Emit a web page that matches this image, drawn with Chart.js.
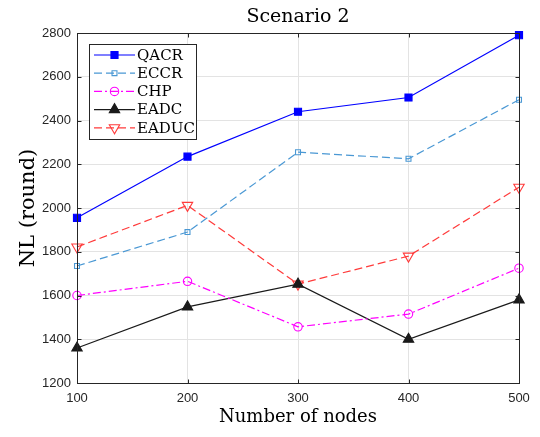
<!DOCTYPE html>
<html>
<head>
<meta charset="utf-8">
<script src="https://cdn.jsdelivr.net/npm/chart.js@4"></script>
<style>
  html, body { margin: 0; padding: 0; background: #fff; }
  #wrap { width: 540px; height: 437px; }
</style>
</head>
<body>
<div id="wrap"><canvas id="c" width="540" height="437"></canvas></div>
<script>
// values
const nodes = [100, 200, 300, 400, 500];
const qacr  = [1955, 2235, 2440, 2505, 2790];
const eccr  = [1735, 1890, 2255, 2225, 2495];
const chp   = [1600, 1665, 1457, 1515, 1725];
const eadc  = [1360, 1548, 1652, 1400, 1580];
const eaduc = [1822, 2012, 1652, 1780, 2095];
const yTicks = [1200, 1400, 1600, 1800, 2000, 2200, 2400, 2600, 2800];

const AXIS = "#262626";
const SERIF = "'DejaVu Serif', serif";
const SANS = "'Liberation Sans', Arial, sans-serif";

function pts(ys) { return nodes.map((x, i) => ({ x, y: ys[i] })); }

function series(label, ys, color, dash, style, radius, filled, rotation) {
  return {
    label,
    data: pts(ys),
    borderColor: color,
    borderWidth: 1.2,
    borderDash: dash,
    pointStyle: style,
    pointRadius: radius,
    pointRotation: rotation || 0,
    pointBorderColor: color,
    pointBorderWidth: 1.1,
    pointBackgroundColor: filled ? color : "rgba(0,0,0,0)",
    backgroundColor: filled ? color : "rgba(0,0,0,0)",
    tension: 0,
    clip: false
  };
}

// MATLAB-like box with inward ticks on all four sides
const boxPlugin = {
  id: "box",
  afterDatasetsDraw(chart) {
    const { ctx, chartArea: a, scales: { x, y } } = chart;
    const L = Math.floor(a.left) + 0.5, T = Math.floor(a.top) + 0.5;
    const R = Math.floor(a.right) + 0.5, B = Math.floor(a.bottom) + 0.5;
    ctx.save();
    ctx.strokeStyle = AXIS;
    ctx.lineWidth = 1;
    ctx.strokeRect(L, T, R - L, B - T);
    ctx.beginPath();
    x.ticks.forEach(t => {
      const px = Math.round(x.getPixelForValue(t.value)) + 0.5;
      ctx.moveTo(px, B); ctx.lineTo(px, B - 4);
      ctx.moveTo(px, T); ctx.lineTo(px, T + 4);
    });
    y.ticks.forEach(t => {
      const py = Math.round(y.getPixelForValue(t.value)) + 0.5;
      ctx.moveTo(L, py); ctx.lineTo(L + 4, py);
      ctx.moveTo(R, py); ctx.lineTo(R - 4, py);
    });
    ctx.stroke();
    ctx.restore();
  }
};

function marker(ctx, ds, cx, cy) {
  ctx.fillStyle = ds.pointBackgroundColor;
  ctx.strokeStyle = ds.pointBorderColor;
  ctx.lineWidth = ds.pointBorderWidth;
  ctx.setLineDash([]);
  Chart.helpers.drawPoint(ctx, {
    pointStyle: ds.pointStyle,
    radius: ds.pointRadius,
    rotation: ds.pointRotation,
    borderWidth: ds.pointBorderWidth
  }, cx, cy);
}

// legend box in the top-left corner, drawn like the MATLAB one
const legendBox = {
  id: "legendBox",
  afterDraw(chart) {
    const { ctx } = chart;
    const opts = chart.options.plugins.legendBox;
    const { left, top, width, rowH } = opts;
    const sets = chart.data.datasets;
    const height = rowH * sets.length + 4;
    ctx.save();
    ctx.fillStyle = "#fff";
    ctx.fillRect(left, top, width, height);
    ctx.strokeStyle = AXIS;
    ctx.lineWidth = 1;
    ctx.strokeRect(left + 0.5, top + 0.5, width, height);
    ctx.font = "15px " + SERIF;
    ctx.textBaseline = "middle";
    sets.forEach((ds, i) => {
      const cy = top + 11 + i * rowH;
      const x0 = left + 5, x1 = left + 46;
      ctx.beginPath();
      ctx.strokeStyle = ds.borderColor;
      ctx.lineWidth = ds.borderWidth;
      ctx.setLineDash(ds.borderDash || []);
      ctx.moveTo(x0, cy);
      ctx.lineTo(x1, cy);
      ctx.stroke();
      marker(ctx, ds, (x0 + x1) / 2, cy);
      ctx.fillStyle = "#000";
      ctx.fillText(ds.label, left + 48, cy + 1);
    });
    ctx.restore();
  }
};

new Chart(document.getElementById("c").getContext("2d"), {
  type: "line",
  data: {
    datasets: [
      series("QACR", qacr, "#0000ff", [], "rect", 5, true),
      series("ECCR", eccr, "#4a98d4", [8, 4], "rect", 3.5, false),
      series("CHP", chp, "#ff00ff", [8, 3, 2, 3], "circle", 4.2, false),
      series("EADC", eadc, "#1a1a1a", [], "triangle", 6, true),
      series("EADUC", eaduc, "#ff3b3b", [8, 4], "triangle", 6, false, 180)
    ]
  },
  options: {
    responsive: false,
    animation: false,
    layout: { padding: { left: 0, right: 21, top: 0, bottom: 0 } },
    plugins: {
      legend: { display: false },
      tooltip: { enabled: false },
      title: {
        display: true,
        text: "Scenario 2",
        fullSize: false,
        color: "#000",
        font: { family: SERIF, size: 19, weight: "normal" },
        padding: { top: 5.6, bottom: 4.6 }
      },
      legendBox: { left: 89, top: 44, width: 107, rowH: 18.2 }
    },
    scales: {
      x: {
        type: "linear",
        min: nodes[0],
        max: nodes[nodes.length - 1],
        afterFit: s => { s.height = 54; },
        border: { display: false },
        grid: { color: "#e3e3e3", drawTicks: false },
        ticks: { stepSize: 100, padding: 8, color: AXIS, font: { family: SANS, size: 13 } },
        title: {
          display: true,
          text: "Number of nodes",
          color: "#000",
          font: { family: SERIF, size: 18 },
          padding: { top: 0, bottom: 9 }
        }
      },
      y: {
        min: yTicks[0],
        max: yTicks[yTicks.length - 1],
        afterFit: s => { s.width = 77; },
        border: { display: false },
        grid: { color: "#e3e3e3", drawTicks: false },
        ticks: {
          stepSize: yTicks[1] - yTicks[0],
          padding: 6,
          color: AXIS,
          font: { family: SANS, size: 13 },
          callback: v => String(v)
        },
        title: {
          display: true,
          text: "NL (round)",
          color: "#000",
          font: { family: SERIF, size: 21 },
          padding: { top: 15.5, bottom: 0 }
        }
      }
    }
  },
  plugins: [boxPlugin, legendBox]
});
</script>
</body>
</html>
